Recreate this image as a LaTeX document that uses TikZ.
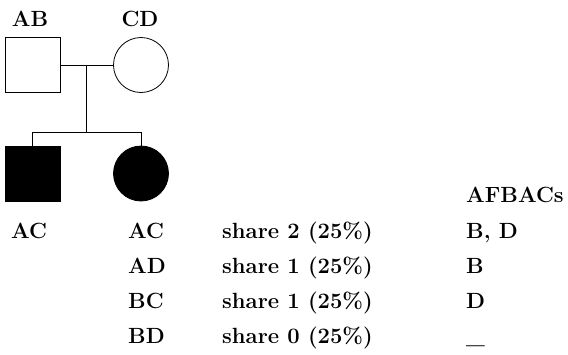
\documentclass[tikz,border=0pt]{standalone}
\usepackage{tikz}
\usetikzlibrary{positioning}

\begin{document}
\begin{tikzpicture}[x=1pt,y=-1pt,
  male/.style={draw,line width=0.8pt,rectangle,minimum size=55pt,inner sep=0pt},
  female/.style={draw,line width=0.8pt,circle,minimum size=55pt,inner sep=0pt},
  txt/.style={anchor=base west,inner sep=0pt,font=\fontsize{22}{26}\selectfont\bfseries},
  lbl/.style={anchor=base,inner sep=0pt,font=\fontsize{22}{26}\selectfont\bfseries},
  line/.style={line width=0.8pt}]
\useasboundingbox (0,0) rectangle (568,354);

% parents
\node[male] (ab) at (32.5,65) {};
\node[female] (cd) at (141,65) {};
\node[lbl] (labAB) at (30,26) {AB};
\node[lbl] (labCD) at (140,26) {CD};

% children
\node[male,fill=black] (son) at (32.5,173.5) {};
\node[female,fill=black] (dau) at (141,173.5) {};

\coordinate (mid) at (86,65);
\coordinate (sib) at (86,132);
\coordinate (sibL) at (32.5,132);
\coordinate (sibR) at (141,132);

\draw[line] (ab.east) -- (cd.west);
\draw[line] (mid) -- (sib);
\draw[line] (son.north) -- (sibL) -- (sibR) -- (dau.north);

% table
\node[txt] (head) at (466,202) {AFBACs};
\node[txt] (sonG) at (11,238) {AC};

\node[txt] (g1) at (128,238) {AC};
\node[txt] (g2) at (128,273) {AD};
\node[txt] (g3) at (128,308) {BC};
\node[txt] (g4) at (128,343) {BD};

\node[txt] (s1) at (222,238) {share 2 (25\%)};
\node[txt] (s2) at (222,273) {share 1 (25\%)};
\node[txt] (s3) at (222,308) {share 1 (25\%)};
\node[txt] (s4) at (222,343) {share 0 (25\%)};

\node[txt] (a1) at (466,238) {B, D};
\node[txt] (a2) at (466,273) {B};
\node[txt] (a3) at (466,308) {D};
\node[txt] (a4) at (466,343) {\_};

\end{tikzpicture}
\end{document}
